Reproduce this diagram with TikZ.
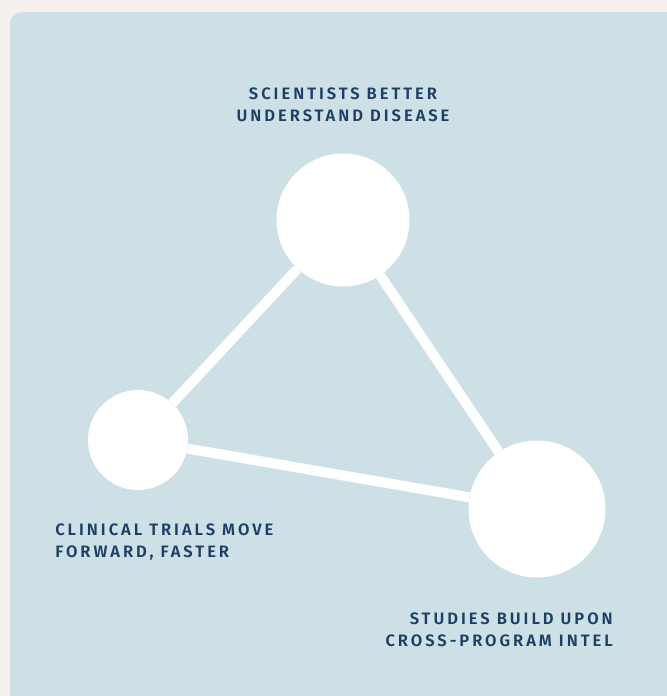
\documentclass[tikz,border=0pt]{standalone}
\usepackage{fontspec}
\newfontfamily\labelfont{Fira Sans SemiBold}[LetterSpace=18]
\usepackage{tikz}

\definecolor{paper}{HTML}{F4F0ED}
\definecolor{panel}{HTML}{CDE0E6}
\definecolor{ink}{HTML}{1D3F66}

\tikzstyle{hub}=[
    circle,
    fill=white,
    draw=none,
    inner sep=0pt,
    minimum size=#1
]
\tikzstyle{link}=[white, line width=7.5pt]
\tikzstyle{caption}=[
    text=ink,
    font=\labelfont\fontsize{12.4}{16.5}\selectfont,
    inner sep=0pt
]

\begin{document}
\begin{tikzpicture}[x=0.75pt,y=-0.75pt]
        \clip (0,0) rectangle (667,696);

        % background
        \fill[paper] (0,0) rectangle (667,696);
        \fill[panel, rounded corners=9pt] (10,12) rectangle (690,720);

        % circles
        \node[hub=99.75pt] (disease) at (343,220) {};
        \node[hub=75pt] (trials) at (138,440) {};
        \node[hub=102.75pt] (studies) at (537,509) {};

        % links
        \draw[link] (disease) -- (trials);
        \draw[link] (disease) -- (studies);
        \draw[link] (trials) -- (studies);

        % labels
        \node[caption, align=center] (disease label) at (343,105) {SCIENTISTS BETTER\\UNDERSTAND DISEASE};
        \node[caption, align=left, anchor=west] (trials label) at (55,542) {CLINICAL TRIALS MOVE\\FORWARD, FASTER};
        \node[caption, align=right, anchor=east] (studies label) at (613,630) {STUDIES BUILD UPON\\CROSS-PROGRAM INTEL};

    \end{tikzpicture}
\end{document}
